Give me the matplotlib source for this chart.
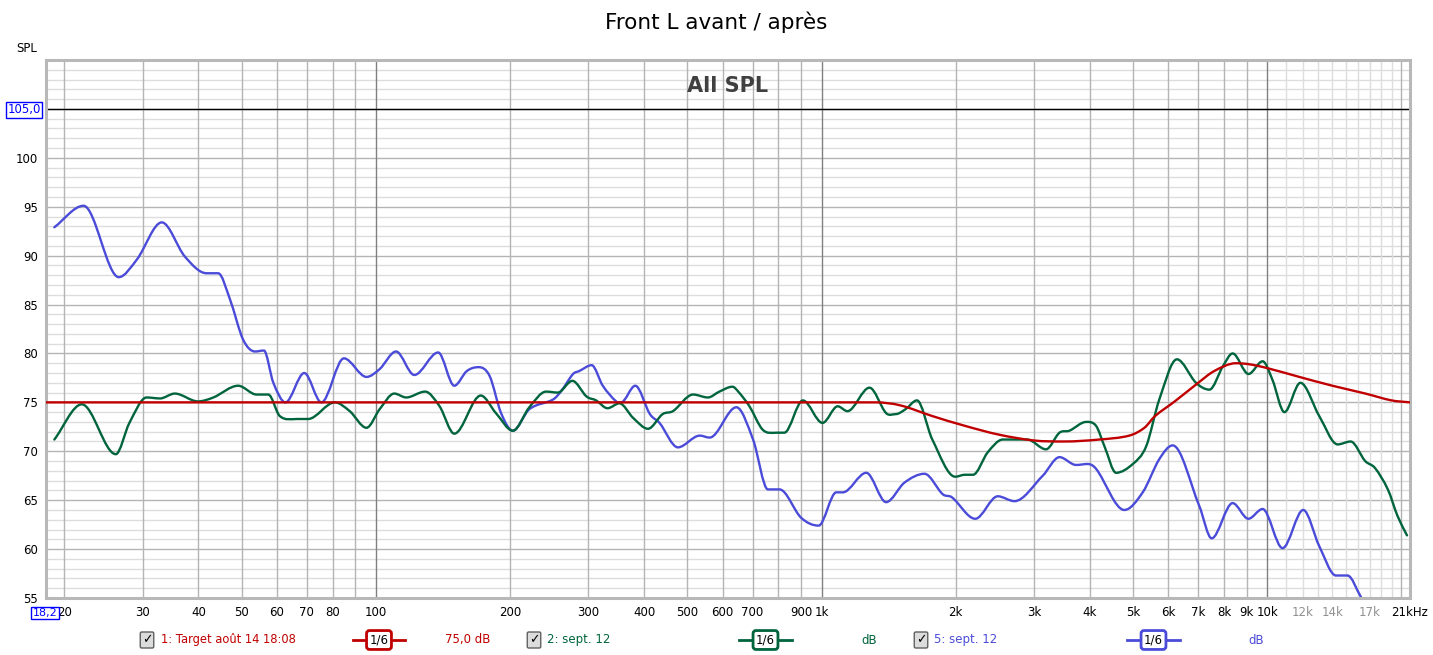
import numpy as np
import matplotlib.pyplot as plt
from matplotlib.lines import Line2D
from matplotlib.path import Path
from matplotlib.patches import PathPatch

red_f = [18.2, 1000, 1320, 1500, 1772, 2097, 2500, 3000, 3500, 4200, 4900, 5300, 5600, 6200,
         7000, 7600, 8500, 9100, 10000, 11800, 14000, 16600, 19000, 20900]
red_db = [75.0, 75.0, 75.0, 74.7, 73.6, 72.6, 71.7, 71.1, 71.0, 71.2, 71.6, 72.4, 73.6, 75.1,
          77.0, 78.2, 79.0, 78.9, 78.5, 77.6, 76.7, 75.9, 75.2, 75.0]

green_f = [19.0, 21.9, 26.1, 28.0, 30.6, 32.8, 35.4, 39.9, 43.2, 49.1, 54.0, 57.4, 60.9,
           66.4, 70.5, 80.9, 87.4, 95.3, 102, 110, 117, 129, 139, 150, 172, 186, 203, 221,
           241, 256, 276, 297, 312, 331, 352, 378, 408, 440, 464, 515, 556, 590, 631, 653,
           689, 738, 791, 825, 908, 1005, 1087, 1143, 1281, 1396, 1467, 1543, 1637, 1772,
           1994, 2097, 2187, 2360, 2550, 2896, 3188, 3418, 3597, 3923, 4129, 4313, 4578,
           4992, 5348, 5725, 6270, 6920, 7416, 7953, 8360, 9076, 9761, 10270, 10924, 11864,
           13079, 14380, 15382, 16582, 17433, 18640, 19590, 20580]
green_db = [71.2, 74.8, 69.7, 72.9, 75.5, 75.4, 75.9, 75.1, 75.5, 76.7, 75.8, 75.8, 73.6,
            73.3, 73.3, 75.0, 74.1, 72.4, 74.3, 75.9, 75.5, 76.1, 74.6, 71.8, 75.7, 73.9,
            72.1, 74.5, 76.1, 76.0, 77.2, 75.6, 75.2, 74.4, 74.9, 73.4, 72.3, 73.8, 74.1,
            75.8, 75.5, 76.1, 76.6, 76.0, 74.6, 72.2, 71.9, 71.9, 75.2, 72.9, 74.6, 74.1,
            76.5, 73.9, 73.8, 74.3, 75.2, 71.2, 67.4, 67.6, 67.6, 69.9, 71.2, 71.2, 70.2,
            71.9, 72.1, 73.0, 72.6, 70.5, 67.8, 68.7, 70.5, 75.3, 79.4, 77.0, 76.3, 78.7,
            80.0, 77.9, 79.2, 77.3, 74.0, 77.0, 73.6, 70.7, 71.0, 69.0, 68.3, 66.1, 63.4,
            61.4]

blue_f = [19.0, 22.1, 26.5, 29.1, 33.1, 37.3, 41.7, 44.3, 47.1, 50.4, 53.6, 56.1, 58.9,
          62.7, 69.1, 75.5, 84.8, 95.3, 102, 111, 122, 138, 150, 160, 170, 180, 191, 203,
          221, 250, 261, 277, 286, 305, 323, 346, 355, 382, 412, 433, 476, 533, 561, 644,
          702, 758, 805, 900, 985, 1079, 1116, 1260, 1396, 1535, 1702, 1871, 1960, 2212,
          2485, 2709, 3135, 3418, 3724, 3955, 4130, 4778, 5254, 5725, 6135, 7039, 7502,
          8360, 9068, 9761, 10821, 12040, 13079, 14256, 15135, 16218, 17000]
blue_db = [92.9, 95.1, 87.8, 89.6, 93.4, 89.9, 88.2, 88.2, 85.5, 81.4, 80.2, 80.3, 77.0,
           75.0, 78.0, 75.0, 79.5, 77.6, 78.4, 80.2, 77.8, 80.1, 76.7, 78.2, 78.6, 77.7,
           73.9, 72.1, 74.3, 75.3, 76.2, 77.9, 78.2, 78.8, 76.7, 75.1, 75.0, 76.7, 73.8,
           72.9, 70.4, 71.6, 71.4, 74.5, 71.2, 66.1, 66.1, 63.2, 62.4, 65.8, 65.8, 67.8,
           64.8, 66.8, 67.7, 65.6, 65.3, 63.1, 65.4, 64.9, 67.5, 69.4, 68.6, 68.7, 68.2,
           64.0, 65.8, 69.2, 70.6, 64.4, 61.1, 64.7, 63.1, 64.1, 60.1, 64.0, 60.3, 57.3,
           57.3, 55.1, 53.5]

xtick_pos = [20, 30, 40, 50, 60, 70, 80, 100, 200, 300, 400, 500, 600, 700, 900, 1000,
             2000, 3000, 4000, 5000, 6000, 7000, 8000, 9000, 10000, 12000, 14000, 17000, 20900]
xtick_lab = ['20', '30', '40', '50', '60', '70', '80', '100', '200', '300', '400', '500',
             '600', '700', '900', '1k', '2k', '3k', '4k', '5k', '6k', '7k', '8k', '9k', '10k',
             '12k', '14k', '17k', '21kHz']
yticks = [55, 60, 65, 70, 75, 80, 85, 90, 95, 100]

RED = '#c00000'
GREEN = '#00643c'
BLUE = '#4b4bd9'


def courbe(ax, f, db, col, z):
    # trace lissé (Bézier) passant par les points lus, en x log
    lx = np.log10(f)
    y = np.asarray(db, dtype=float)
    n = len(lx)
    m = np.zeros(n)
    for i in range(n):
        if i == 0:
            m[i] = (y[1] - y[0]) / (lx[1] - lx[0])
        elif i == n - 1:
            m[i] = (y[-1] - y[-2]) / (lx[-1] - lx[-2])
        elif (y[i] - y[i - 1]) * (y[i + 1] - y[i]) > 0:
            m[i] = (y[i + 1] - y[i - 1]) / (lx[i + 1] - lx[i - 1])
    verts = [(f[0], y[0])]
    codes = [Path.MOVETO]
    for i in range(n - 1):
        h = lx[i + 1] - lx[i]
        c1 = (10 ** (lx[i] + h / 3), y[i] + m[i] * h / 3)
        c2 = (10 ** (lx[i + 1] - h / 3), y[i + 1] - m[i + 1] * h / 3)
        verts += [c1, c2, (f[i + 1], y[i + 1])]
        codes += [Path.CURVE4] * 3
    ax.add_patch(PathPatch(Path(verts, codes), fill=False, ec=col, lw=1.7,
                           zorder=z, joinstyle='round', capstyle='round'))


fig = plt.figure(figsize=(14.33, 6.55), dpi=100)
ax = fig.add_axes([46 / 1433, 1 - 598 / 655, (1410 - 46) / 1433, (598 - 60) / 655])
ax.set_xscale('log')
ax.set_xlim(18.2, 20900)
ax.set_ylim(55, 110)

# grille
for v in range(55, 111):
    ax.axhline(v, color='#b4b4b4' if v % 5 == 0 else '#dddddd', lw=1, zorder=0)
for dec in [10, 100, 1000]:
    for k in range(2, 10):
        f = dec * k
        if 18.2 < f:
            ax.axvline(f, color='#b4b4b4', lw=1, zorder=0)
for f in [100, 1000, 10000]:
    ax.axvline(f, color='#808080', lw=1, zorder=0)
for f in range(11000, 21000, 1000):
    ax.axvline(f, color='#b4b4b4' if f == 20000 else '#dddddd', lw=1, zorder=0)

ax.axhline(105, color='black', lw=1, zorder=1)
ax.axvline(18.2, color='black', lw=1.5, zorder=1)

courbe(ax, blue_f, blue_db, BLUE, 2)
courbe(ax, green_f, green_db, GREEN, 3)
courbe(ax, red_f, red_db, RED, 4)

ax.set_yticks(yticks)
ax.set_yticklabels([str(v) for v in yticks])
ax.set_xticks(xtick_pos)
ax.set_xticklabels(xtick_lab)
ax.minorticks_off()
ax.tick_params(axis='both', length=0, labelsize=8.5)
ax.tick_params(axis='x', pad=6)
ax.tick_params(axis='y', pad=6)
for lab in ax.get_xticklabels():
    if lab.get_text() in ('12k', '14k', '17k'):
        lab.set_color('#909090')

for s in ax.spines.values():
    s.set_color('#b8b8b8')
    s.set_linewidth(2.2)

ax.text(0.5, 0.97, 'All SPL', transform=ax.transAxes, ha='center', va='top',
        fontsize=15, fontweight='bold', color='#404040')

fig.text(0.5, 1 - 22 / 655, 'Front L avant / après', ha='center', va='center', fontsize=15.5)
fig.text(16 / 1433, 1 - 48 / 655, 'SPL', ha='left', va='center', fontsize=8.5)

# curseurs
fig.text(24 / 1433, 1 - 110 / 655, '105,0', ha='center', va='center', fontsize=8.5, color='#0000ff',
         bbox=dict(boxstyle='square,pad=0.15', fc='white', ec='#0000ff', lw=1))
fig.text(45 / 1433, 1 - 613 / 655, '18,2', ha='center', va='center', fontsize=8, color='#0000ff',
         bbox=dict(boxstyle='square,pad=0.12', fc='white', ec='#0000ff', lw=1))

# légende du bas
ly = 1 - 640 / 655
def checkbox(x):
    fig.text(x / 1433, ly, '✓', ha='center', va='center', fontsize=9, fontweight='bold',
             bbox=dict(boxstyle='round,pad=0.12', fc='#dcdcdc', ec='#606060', lw=1))

def smooth_sym(x0, x1, col):
    fig.add_artist(Line2D([x0 / 1433, x1 / 1433], [ly, ly], color=col, lw=2,
                          transform=fig.transFigure))
    fig.text((x0 + x1) / 2 / 1433, ly, '1/6', ha='center', va='center', fontsize=8.5,
             bbox=dict(boxstyle='round,pad=0.25', fc='white', ec=col, lw=2))

checkbox(147)
fig.text(161 / 1433, ly, '1: Target août 14 18:08', ha='left', va='center', fontsize=8.3, color=RED)
smooth_sym(353, 405, RED)
fig.text(490 / 1433, ly, '75,0 dB', ha='right', va='center', fontsize=8.5, color=RED)

checkbox(534)
fig.text(547 / 1433, ly, '2: sept. 12', ha='left', va='center', fontsize=8.5, color=GREEN)
smooth_sym(739, 792, GREEN)
fig.text(877 / 1433, ly, 'dB', ha='right', va='center', fontsize=8.5, color=GREEN)

checkbox(921)
fig.text(934 / 1433, ly, '5: sept. 12', ha='left', va='center', fontsize=8.5, color=BLUE)
smooth_sym(1127, 1180, BLUE)
fig.text(1264 / 1433, ly, 'dB', ha='right', va='center', fontsize=8.5, color=BLUE)

fig.savefig('out.png', dpi=100)
